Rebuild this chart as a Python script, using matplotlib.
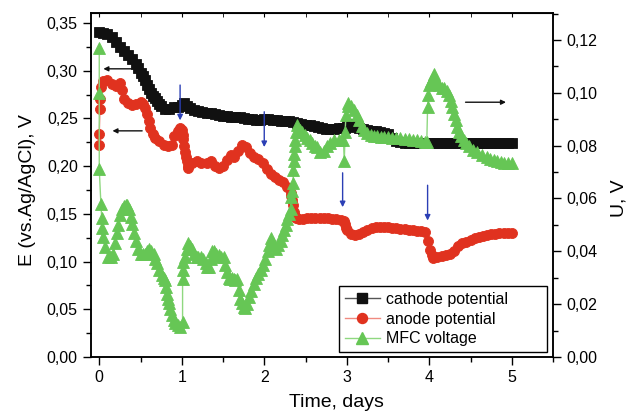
import numpy as np
import matplotlib
matplotlib.use("Agg")
from matplotlib import pyplot as plt
from matplotlib.ticker import FuncFormatter, MultipleLocator
from matplotlib.lines import Line2D

plt.rcParams['font.family'] = ['Liberation Sans', 'DejaVu Sans']

# cathode potential, V vs Ag/AgCl
t_cath = [0.00, 0.05, 0.10, 0.15, 0.20, 0.25, 0.30, 0.35, 0.40, 0.45, 0.475, 0.50, 0.525, 0.55,
          0.575, 0.60, 0.625, 0.65, 0.675, 0.70, 0.725, 0.75, 0.80, 0.85, 0.90, 0.95, 1.00,
          1.03, 1.06, 1.10, 1.15, 1.20, 1.25, 1.30, 1.35, 1.40, 1.45, 1.50, 1.55, 1.60, 1.65,
          1.70, 1.75, 1.80, 1.85, 1.90, 1.95, 2.00, 2.05, 2.10, 2.15, 2.20, 2.25, 2.30, 2.35,
          2.40, 2.45, 2.50, 2.55, 2.60, 2.65, 2.70, 2.75, 2.80, 2.85, 2.90, 2.95, 2.98, 3.00,
          3.05, 3.10, 3.15, 3.20, 3.25, 3.30, 3.35, 3.40, 3.45, 3.50, 3.55, 3.60, 3.65, 3.70,
          3.75,
          3.80, 3.85, 3.90, 3.95, 4.00, 4.05, 4.10, 4.15, 4.20, 4.25, 4.30, 4.35, 4.40,
          4.45, 4.50, 4.55, 4.60, 4.65, 4.70, 4.75, 4.80, 4.85, 4.90, 4.95, 5.00]
e_cath = [0.341, 0.340, 0.339, 0.335, 0.330, 0.325, 0.321, 0.317, 0.312, 0.307, 0.303, 0.298,
          0.294, 0.290, 0.285, 0.281, 0.277, 0.274, 0.271, 0.268, 0.265, 0.263, 0.260, 0.260,
          0.262, 0.262, 0.264, 0.266, 0.263, 0.261, 0.259, 0.258, 0.257, 0.256, 0.256, 0.255,
          0.254, 0.253, 0.253, 0.252, 0.251, 0.251, 0.250, 0.249, 0.249, 0.248, 0.248, 0.249,
          0.249, 0.248, 0.248, 0.247, 0.247, 0.247, 0.246, 0.245, 0.244, 0.243, 0.243, 0.242,
          0.241, 0.240, 0.239, 0.239, 0.239, 0.240, 0.240, 0.240, 0.244, 0.242, 0.241, 0.240,
          0.239, 0.238, 0.237, 0.237, 0.236, 0.235, 0.234, 0.229, 0.226, 0.225, 0.224, 0.224,
          0.224, 0.224, 0.224, 0.224, 0.224, 0.224, 0.224, 0.224, 0.224, 0.224, 0.224, 0.224,
          0.224, 0.224, 0.224, 0.224, 0.224, 0.224, 0.224, 0.224, 0.224, 0.224, 0.224, 0.224,
          0.224]

# anode potential, V vs Ag/AgCl
t_an = [0.00, 0.00, 0.01, 0.01, 0.02, 0.05, 0.10, 0.15, 0.20, 0.25, 0.28, 0.30, 0.35, 0.40,
        0.45, 0.50, 0.53, 0.56, 0.58, 0.60, 0.62, 0.65, 0.68, 0.73, 0.78, 0.83, 0.88, 0.91,
        0.95, 0.98, 1.00, 1.01, 1.02, 1.03, 1.04, 1.05, 1.06, 1.07, 1.08, 1.12, 1.18, 1.23,
        1.30, 1.35, 1.40, 1.45, 1.50, 1.55, 1.60, 1.63, 1.68, 1.73, 1.78, 1.83, 1.88, 1.93,
        1.98, 2.03, 2.08, 2.13, 2.18, 2.23, 2.28, 2.32, 2.33, 2.34, 2.35, 2.36, 2.37, 2.38,
        2.42, 2.47, 2.52, 2.57, 2.62, 2.67, 2.72, 2.77, 2.82, 2.87, 2.93, 2.97, 2.98, 2.99,
        3.00, 3.05, 3.10, 3.15, 3.20, 3.25, 3.30, 3.35, 3.40, 3.45, 3.50, 3.55, 3.60, 3.65,
        3.70, 3.75, 3.80, 3.85, 3.90, 3.95, 3.98, 4.01, 4.03, 4.05, 4.10, 4.15, 4.20, 4.25,
        4.30, 4.35, 4.40, 4.45, 4.50, 4.55, 4.60, 4.65, 4.70, 4.75, 4.80, 4.85, 4.90, 4.95,
        5.00]
e_an = [0.222, 0.234, 0.260, 0.270, 0.283, 0.289, 0.290, 0.286, 0.284, 0.287, 0.280, 0.270,
        0.266, 0.264, 0.265, 0.267, 0.265, 0.261, 0.255, 0.247, 0.240, 0.234, 0.230, 0.226,
        0.222, 0.221, 0.222, 0.232, 0.237, 0.240, 0.238, 0.233, 0.228, 0.221, 0.215, 0.210,
        0.205, 0.200, 0.198, 0.203, 0.205, 0.203, 0.203, 0.205, 0.200, 0.198, 0.200, 0.206,
        0.212, 0.210, 0.216, 0.222, 0.220, 0.214, 0.210, 0.207, 0.203, 0.197, 0.192, 0.189,
        0.186, 0.183, 0.178, 0.172, 0.169, 0.165, 0.159, 0.152, 0.148, 0.146, 0.145, 0.145,
        0.146, 0.146, 0.146, 0.146, 0.146, 0.146, 0.145, 0.145, 0.144, 0.143, 0.139, 0.135,
        0.133, 0.129, 0.128, 0.129, 0.131, 0.133, 0.135, 0.136, 0.136, 0.136, 0.136, 0.135,
        0.135, 0.134, 0.134, 0.133, 0.133, 0.132, 0.132, 0.131, 0.122, 0.112, 0.107, 0.104,
        0.105, 0.106, 0.107, 0.108, 0.111, 0.116, 0.119, 0.121, 0.123, 0.125, 0.126, 0.127,
        0.128, 0.129, 0.129, 0.130, 0.130, 0.130, 0.130]

# MFC voltage, V (right axis)
t_mfc = [0.00, 0.00, 0.00, 0.02, 0.03, 0.03, 0.04, 0.07, 0.11, 0.14, 0.17, 0.19, 0.21, 0.23,
         0.25, 0.28, 0.30, 0.32, 0.34, 0.36, 0.38, 0.40, 0.42, 0.44, 0.47, 0.50, 0.53, 0.56,
         0.58, 0.60, 0.63, 0.66, 0.68, 0.70, 0.73, 0.76, 0.78, 0.80, 0.81, 0.82, 0.83, 0.84,
         0.86, 0.88, 0.90, 0.92, 0.95, 0.98, 1.01, 1.01, 1.01, 1.02, 1.04, 1.06, 1.08, 1.10,
         1.12, 1.15, 1.18, 1.20, 1.23, 1.26, 1.29, 1.31, 1.33, 1.35, 1.37, 1.39, 1.42, 1.45,
         1.48, 1.51, 1.53, 1.55, 1.57, 1.59, 1.61, 1.63, 1.65, 1.67, 1.69, 1.71, 1.73, 1.75,
         1.77, 1.79, 1.81, 1.84, 1.87, 1.90, 1.93, 1.96, 1.99, 2.01, 2.04, 2.06, 2.08, 2.11,
         2.14, 2.17, 2.20, 2.22, 2.24, 2.26, 2.28, 2.30, 2.32, 2.33, 2.34, 2.35, 2.35, 2.36,
         2.36, 2.37, 2.37, 2.38, 2.40, 2.43, 2.46, 2.49, 2.52, 2.55, 2.58, 2.61, 2.64, 2.68,
         2.72, 2.76, 2.80, 2.85, 2.90, 2.96, 2.97, 2.98, 2.99, 3.01, 3.02, 3.05, 3.09, 3.12,
         3.15, 3.18, 3.21, 3.25, 3.29, 3.33, 3.37, 3.41, 3.45, 3.50, 3.55, 3.60, 3.65, 3.70,
         3.75, 3.80, 3.85, 3.90, 3.95, 3.97, 3.98, 3.99, 4.00, 4.02, 4.04, 4.06, 4.08, 4.10,
         4.12, 4.15, 4.18, 4.21, 4.24, 4.26, 4.28, 4.30, 4.32, 4.34, 4.36, 4.39, 4.42, 4.45,
         4.48, 4.53, 4.58, 4.64, 4.70, 4.74, 4.78, 4.82, 4.87, 4.91, 4.95, 5.00]
u_mfc = [0.117, 0.100, 0.071, 0.058, 0.0525, 0.049, 0.0455, 0.0417, 0.0379, 0.038, 0.039,
         0.043, 0.047, 0.050, 0.0537, 0.056, 0.057, 0.0575, 0.0575, 0.056, 0.053, 0.0505,
         0.047, 0.044, 0.041, 0.039, 0.039, 0.039, 0.040, 0.041, 0.040, 0.039, 0.037, 0.0354,
         0.033, 0.031, 0.030, 0.029, 0.0265, 0.024, 0.022, 0.0203, 0.018, 0.0159, 0.014,
         0.0127, 0.012, 0.0115, 0.0134, 0.0297, 0.033, 0.036, 0.038, 0.041, 0.043, 0.042,
         0.041, 0.039, 0.038, 0.038, 0.038, 0.037, 0.0354, 0.034, 0.034, 0.037, 0.040, 0.040,
         0.039, 0.0386, 0.038, 0.038, 0.035, 0.0322, 0.030, 0.0297, 0.030, 0.0297, 0.029,
         0.0297, 0.0253, 0.022, 0.0203, 0.019, 0.0184, 0.020, 0.0228, 0.025, 0.0278, 0.030,
         0.0316, 0.033, 0.0348, 0.037, 0.040, 0.0425, 0.0449, 0.043, 0.041, 0.0425, 0.044,
         0.046, 0.048, 0.050, 0.0524, 0.054, 0.056, 0.0606, 0.063, 0.066, 0.0707, 0.074,
         0.077, 0.080, 0.082, 0.085, 0.0877, 0.086, 0.085, 0.084, 0.083, 0.082, 0.081, 0.080,
         0.0794, 0.0775, 0.078, 0.080, 0.081, 0.082, 0.082, 0.082, 0.074, 0.085, 0.0915,
         0.095, 0.096, 0.095, 0.0934, 0.0915, 0.0896, 0.0875, 0.0858, 0.0848, 0.0839, 0.0836,
         0.0835, 0.0833, 0.0832, 0.0831, 0.083, 0.0829, 0.0828, 0.0826, 0.0825, 0.0822,
         0.082, 0.0816, 0.0813, 0.0813, 0.0945, 0.099, 0.1028, 0.1045, 0.106, 0.1073, 0.105,
         0.1035, 0.1028, 0.102, 0.1017, 0.1005, 0.099, 0.097, 0.0945, 0.092, 0.0896, 0.087,
         0.085, 0.0835, 0.082, 0.081, 0.080, 0.0785, 0.0775, 0.0765, 0.0756, 0.075, 0.0746,
         0.0742, 0.0737, 0.0736, 0.0735, 0.0733]

# arrows: (x_from, y_from, x_to, y_to) in left-axis units
blue_arrows = [(0.98, 0.285, 0.98, 0.248), (2.00, 0.257, 2.00, 0.220),
               (2.95, 0.193, 2.95, 0.157), (3.98, 0.180, 3.98, 0.143)]
black_arrows = [(0.40, 0.302, 0.05, 0.302), (0.52, 0.237, 0.16, 0.237),
                (4.44, 0.267, 4.93, 0.267)]

RED = '#e0321f'
GREEN = '#66c655'
BLACK = '#111111'

comma = FuncFormatter(lambda v, p: ("%.2f" % v).replace('.', ','))

fig = plt.figure(figsize=(6.3, 4.15), dpi=100)
ax = fig.add_axes([91/630, 58/415, 462/630, 344/415])
ax2 = ax.twinx()

ax.plot(t_cath, e_cath, '-', color='#555555', lw=1, zorder=2)
ax.plot(t_cath, e_cath, 's', color=BLACK, ms=7, mew=0.6, zorder=3)
ax.plot(t_an, e_an, '-', color='#f08a80', lw=1, zorder=2)
ax.plot(t_an, e_an, 'o', color=RED, ms=7.2, mew=0.6, zorder=3)
ax2.plot(t_mfc, u_mfc, '-', color='#8fd880', lw=1, zorder=2)
ax2.plot(t_mfc, u_mfc, '^', color=GREEN, ms=8, mew=0.6, zorder=3)

ax.set_xlim(-0.1, 5.5)
ax.set_ylim(0, 0.3605)
ax2.set_ylim(0, 0.1302)

ax.xaxis.set_major_locator(MultipleLocator(1))
ax.xaxis.set_minor_locator(MultipleLocator(0.5))
ax.yaxis.set_major_locator(MultipleLocator(0.05))
ax.yaxis.set_minor_locator(MultipleLocator(0.025))
ax2.yaxis.set_major_locator(MultipleLocator(0.02))
ax2.yaxis.set_minor_locator(MultipleLocator(0.01))
ax.yaxis.set_major_formatter(comma)
ax2.yaxis.set_major_formatter(comma)

ax.tick_params(which='major', length=6, width=1, labelsize=11.5, direction='out')
ax.tick_params(which='minor', length=3.5, width=1, direction='out')
ax2.tick_params(which='major', length=6, width=1, labelsize=11.5, direction='out')
ax2.tick_params(which='minor', length=3.5, width=1, direction='out')

top = ax.secondary_xaxis('top')
top.xaxis.set_major_locator(MultipleLocator(1))
top.xaxis.set_minor_locator(MultipleLocator(0.5))
top.tick_params(which='both', direction='in', length=3, labeltop=False)

for a in (ax, ax2):
    for s in a.spines.values():
        s.set_linewidth(1.1)

ax.set_xlabel("Time, days", fontsize=14)
ax.xaxis.set_label_coords(0.532, -0.108)
ax.set_ylabel("E (vs.Ag/AgCl), V", fontsize=14)
ax.yaxis.set_label_coords(-0.118, 0.485)
ax2.set_ylabel("U, V", fontsize=14)
ax2.yaxis.set_label_coords(1.125, 0.462)

for x0, y0, x1, y1 in blue_arrows:
    ax2.annotate("", xy=(x1, y1), xytext=(x0, y0), xycoords=ax.transData,
                 textcoords=ax.transData, zorder=6,
                 arrowprops=dict(arrowstyle='-|>', color='#2b3fb5', lw=1,
                                 mutation_scale=8, shrinkA=0, shrinkB=0))
for x0, y0, x1, y1 in black_arrows:
    ax2.annotate("", xy=(x1, y1), xytext=(x0, y0), xycoords=ax.transData,
                 textcoords=ax.transData, zorder=6,
                 arrowprops=dict(arrowstyle='-|>', color=BLACK, lw=1,
                                 mutation_scale=7, shrinkA=0, shrinkB=0))

handles = [Line2D([], [], color='#555555', lw=1, marker='s', mfc=BLACK, mec=BLACK, ms=6.8),
           Line2D([], [], color='#f08a80', lw=1, marker='o', mfc=RED, mec=RED, ms=7.2),
           Line2D([], [], color='#8fd880', lw=1, marker='^', mfc=GREEN, mec=GREEN, ms=8)]
leg = ax2.legend(handles, ["cathode potential", "anode potential", "MFC voltage"],
                 loc='lower left', bbox_to_anchor=(339/630, 63/415, 208/630, 65/415),
                 bbox_transform=fig.transFigure, mode='expand', borderaxespad=0,
                 fontsize=11.5, fancybox=False, edgecolor='black', framealpha=1,
                 handlelength=2.2, handletextpad=0.4, labelspacing=0.3,
                 borderpad=0.35)
leg.get_frame().set_linewidth(1)
leg.set_zorder(10)

fig.savefig("out.png", dpi=100)
